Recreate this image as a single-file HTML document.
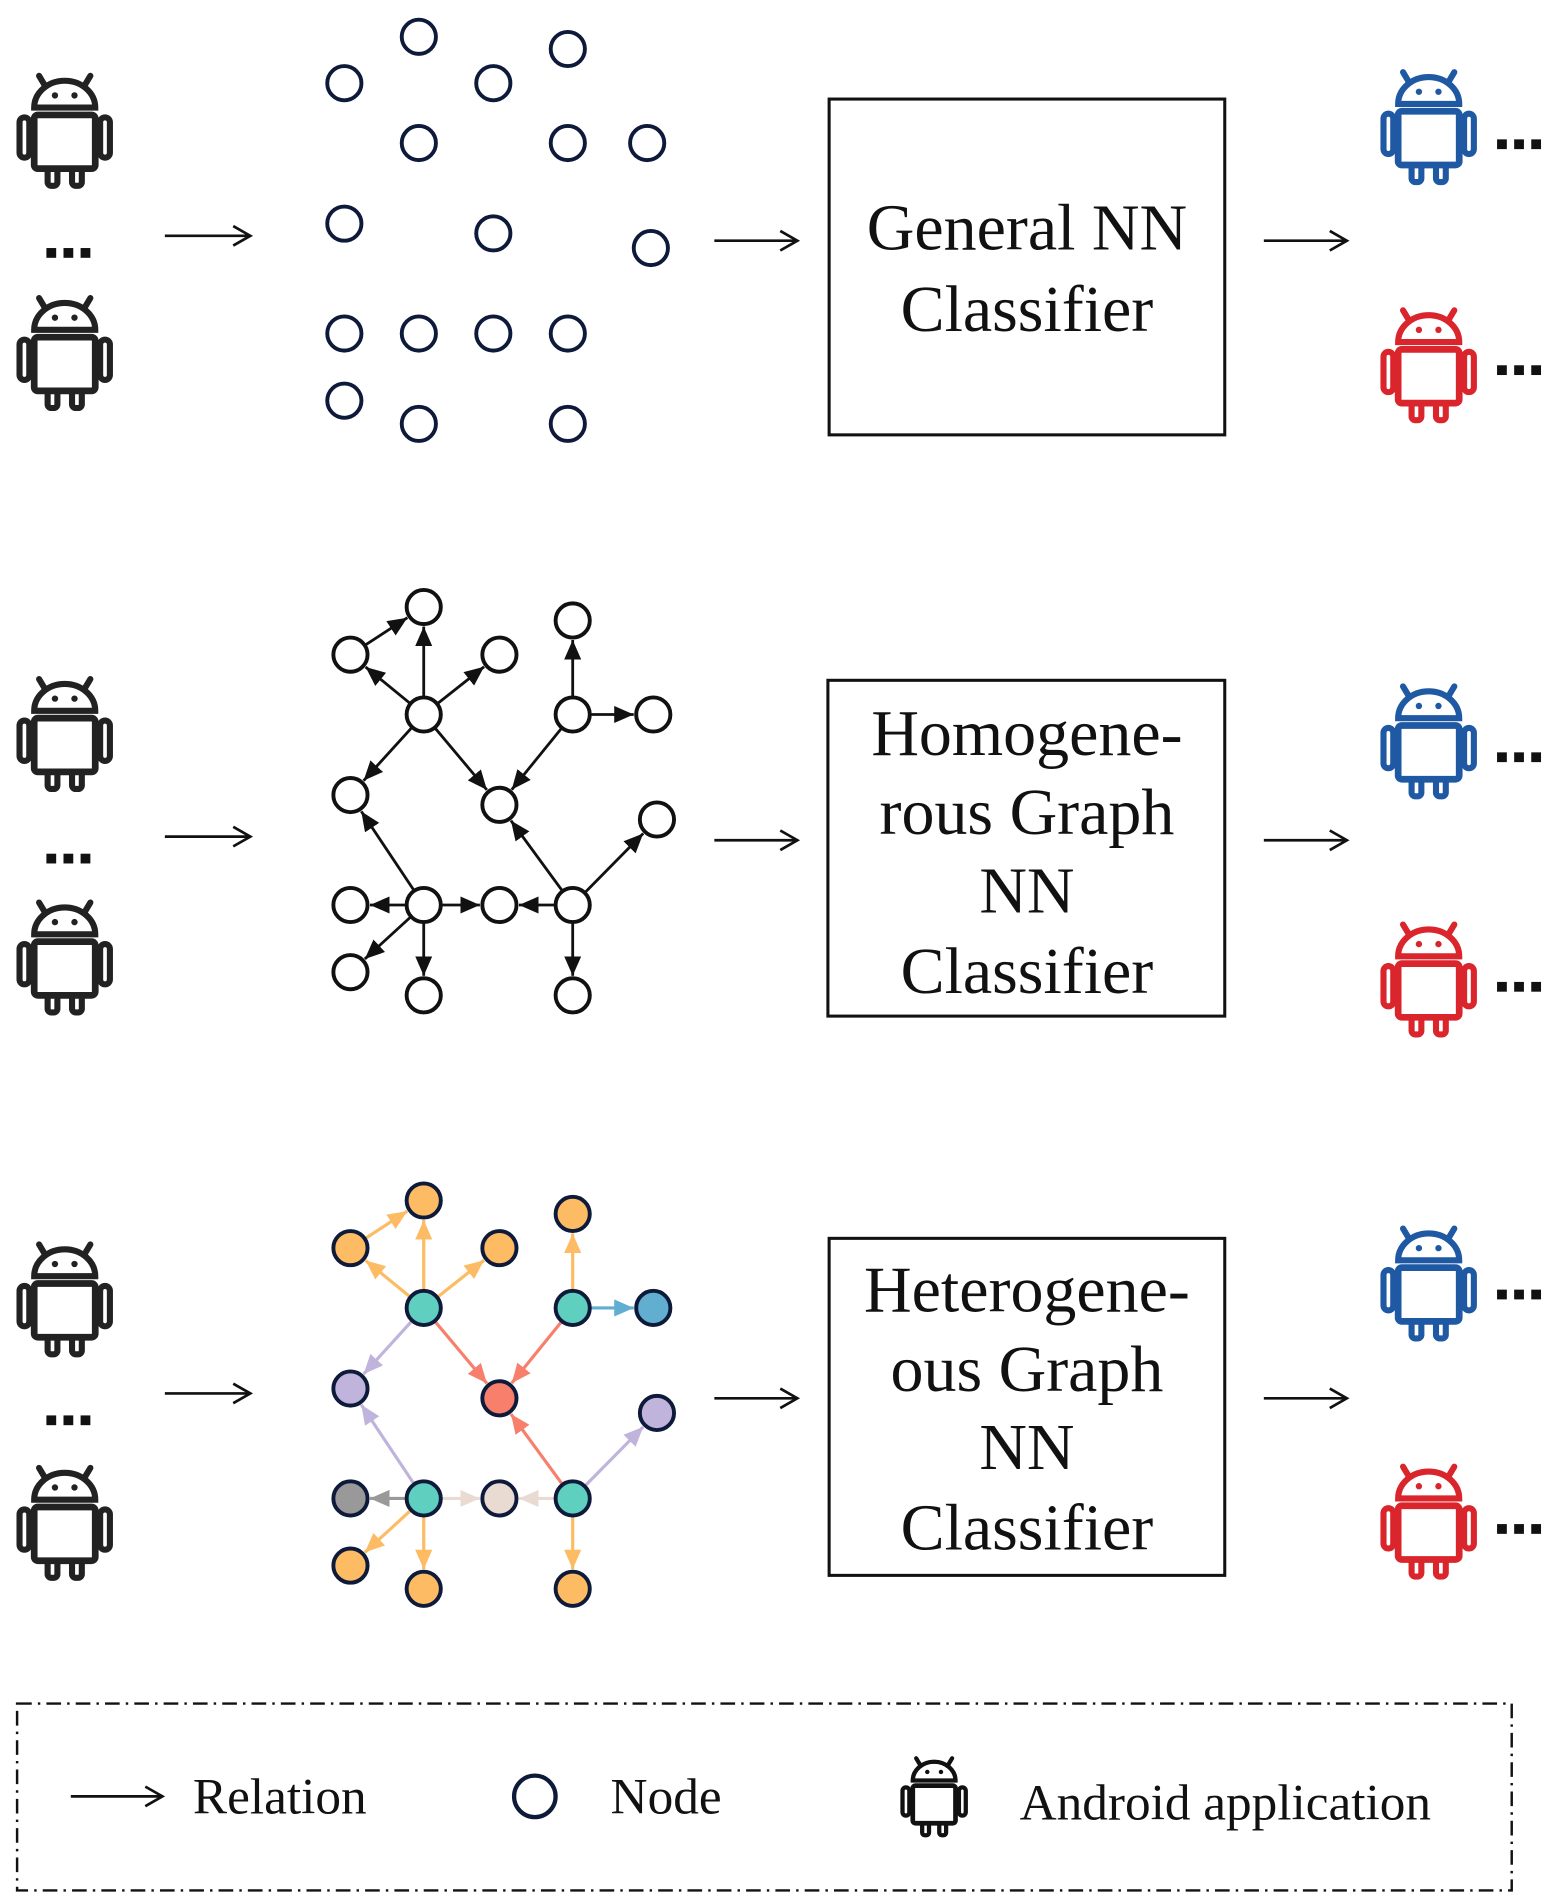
<!DOCTYPE html>
<html><head><meta charset="utf-8"><style>
html,body{margin:0;padding:0;background:#fff;}
svg{display:block;}
text{font-family:"Liberation Serif",serif;fill:#111;}
</style></head><body>
<svg id="s" width="1563" height="1904" viewBox="0 0 1280 1559" xmlns="http://www.w3.org/2000/svg">
<defs>
<g id="and">
<line x1="-15" y1="14" x2="-21" y2="4" stroke-width="5" stroke-linecap="round"/>
<line x1="15" y1="14" x2="21" y2="4" stroke-width="5" stroke-linecap="round"/>
<path d="M-25,30 A25,22 0 0 1 25,30 Z" stroke-width="5" fill="#fff"/>
<circle cx="-8" cy="20" r="2.6" stroke="none"/>
<circle cx="8" cy="20" r="2.6" stroke="none"/>
<rect x="-14" y="76" width="8" height="18" rx="3" stroke-width="5" fill="#fff"/>
<rect x="6" y="76" width="8" height="18" rx="3" stroke-width="5" fill="#fff"/>
<rect x="-37" y="38" width="8" height="33" rx="4" stroke-width="5" fill="#fff"/>
<rect x="29" y="38" width="8" height="33" rx="4" stroke-width="5" fill="#fff"/>
<rect x="-25" y="36" width="50" height="44" rx="3" stroke-width="5.5" fill="#fff"/>
</g>
<marker id="mk" markerUnits="userSpaceOnUse" markerWidth="20" markerHeight="20" refX="17" refY="10" orient="auto"><path d="M3,2 L17,10 L3,18" fill="none" stroke="#111" stroke-width="2.2"/></marker>
</defs>
<g id="content"></g>
<rect x="679" y="81" width="324" height="275" fill="none" stroke="#111" stroke-width="2.5"/>
<rect x="678" y="557" width="325" height="275" fill="none" stroke="#111" stroke-width="2.5"/>
<rect x="679" y="1014" width="324" height="276" fill="none" stroke="#111" stroke-width="2.5"/>
<g font-size="54" text-anchor="middle">
<text x="841" y="204">General NN</text>
<text x="841" y="271">Classifier</text>
<text x="841" y="618">Homogene-</text>
<text x="841" y="683">rous Graph</text>
<text x="841" y="747">NN</text>
<text x="841" y="813">Classifier</text>
<text x="841" y="1074">Heterogene-</text>
<text x="841" y="1139">ous Graph</text>
<text x="841" y="1203">NN</text>
<text x="841" y="1269">Classifier</text>
</g>
<rect x="14" y="1395" width="1224" height="153" fill="none" stroke="#111" stroke-width="2" stroke-dasharray="12,5,2,5"/>
<line x1="58" y1="1471" x2="133" y2="1471" stroke="#111" stroke-width="2.2" marker-end="url(#mk)"/>
<text x="158" y="1485" font-size="42">Relation</text>
<circle cx="438" cy="1471" r="17" fill="#fff" stroke="#0e1a3a" stroke-width="3.5"/>
<text x="500" y="1485" font-size="42">Node</text>
<g transform="translate(765,1437) scale(0.7)" fill="#111" stroke="#111"><use href="#and"/></g>
<text x="835" y="1490" font-size="42">Android application</text>
</svg>
<script>
const NS="http://www.w3.org/2000/svg";
const C=document.getElementById('content');
function el(t,a){const e=document.createElementNS(NS,t);for(const k in a)e.setAttribute(k,a[k]);C.appendChild(e);return e;}
const defs=document.querySelector('defs');
let mid=0;
function marker(col){const id='m'+(mid++);const m=document.createElementNS(NS,'marker');
m.setAttribute('id',id);m.setAttribute('markerUnits','userSpaceOnUse');m.setAttribute('markerWidth','20');m.setAttribute('markerHeight','16');
m.setAttribute('refX','16');m.setAttribute('refY','7');m.setAttribute('orient','auto');
const p=document.createElementNS(NS,'path');p.setAttribute('d','M0,0 L16,7 L0,14 z');p.setAttribute('fill',col);m.appendChild(p);defs.appendChild(m);return id;}
function android(cx,top,col){const g=el('g',{transform:`translate(${cx},${top})`,fill:col,stroke:col});
const u=document.createElementNS(NS,'use');u.setAttribute('href','#and');g.appendChild(u);}
function dots(x,y){for(let i=0;i<3;i++)el('rect',{x:x+i*14,y:y-4,width:8,height:8,fill:'#111'});}
function arrow(x1,x2,y){el('line',{x1,y1:y,x2,y2:y,stroke:'#111','stroke-width':2.2,'marker-end':'url(#mk)'});}
[[58,240,207],[552,735,703],[1015,1198,1163]].forEach(([a,b,d])=>{android(53,a,'#222');android(53,b,'#222');dots(38,d);});
[[55,250,118,303],[558,753,620,808],[1002,1197,1060,1252]].forEach(([a,b,d1,d2])=>{android(1170,a,'#1f58a3');android(1170,b,'#d9252b');dots(1226,d1);dots(1226,d2);});
[[193,197],[685,688],[1141,1145]].forEach(([y1,y2])=>{arrow(135,205,y1);arrow(585,653,y2);arrow(1035,1103,y2);});
[[343,30],[465,40],[282,68],[404,68],[343,117],[465,117],[530,117],[282,183],[404,191],[533,203],[282,273],[343,273],[404,273],[465,273],[282,328],[343,347],[465,347]].forEach(([x,y])=>el('circle',{cx:x,cy:y,r:14,fill:'#fff',stroke:'#0e1a3a','stroke-width':3.2}));
const base=[[347,497],[469,508],[287,536],[409,536],[347,585],[469,585],[535,585],[287,651],[409,659],[538,671],[287,741],[347,741],[409,741],[469,741],[287,796],[347,815],[469,815]];
const E=[[4,0],[4,2],[4,3],[2,0],[4,7],[4,8],[5,1],[5,6],[5,8],[11,7],[11,10],[11,12],[11,14],[11,15],[13,12],[13,8],[13,9],[13,16]];
const O='#fdbb63',T='#5fd0c0',B='#62aed0',L='#c0b4dc',R='#f77f6c',G='#999',W='#eadbd2';
const nodeCol=[O,O,O,O,T,T,B,L,R,L,G,T,W,T,O,O,O];
const edgeCol=[O,O,O,O,L,R,O,B,R,L,G,W,O,O,W,R,L,O];
function graph(dy,colored){
 const N=base.map(([x,y])=>[x,y+dy]);const r=14;
 const mk={};
 E.forEach(([a,b],i)=>{const col=colored?edgeCol[i]:'#111';if(!mk[col])mk[col]=marker(col);
  const [x1,y1]=N[a],[x2,y2]=N[b];const dx=x2-x1,dy2=y2-y1,d=Math.hypot(dx,dy2);
  const ux=dx/d,uy=dy2/d;const s=r+1,e=r+2;
  el('line',{x1:x1+ux*s,y1:y1+uy*s,x2:x2-ux*e,y2:y2-uy*e,stroke:col,'stroke-width':colored?2.6:2.3,'marker-end':`url(#${mk[col]})`});});
 N.forEach(([x,y],i)=>el('circle',{cx:x,cy:y,r:r,fill:colored?nodeCol[i]:'#fff',stroke:colored?'#0e1a3a':'#111','stroke-width':3.2}));
}
graph(0,false);
graph(486,true);
</script>
</body></html>
